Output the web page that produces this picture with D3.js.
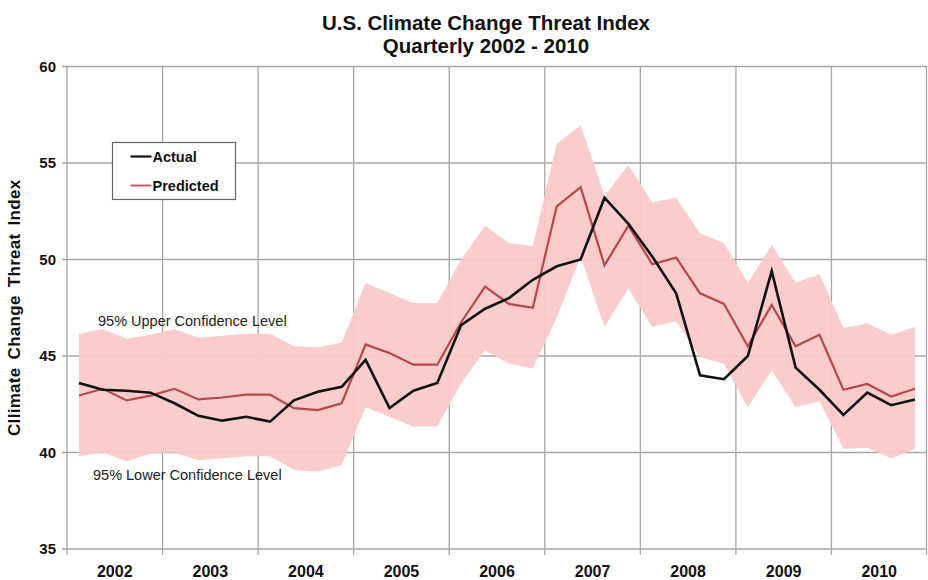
<!DOCTYPE html>
<html>
<head>
<meta charset="utf-8">
<script src="https://cdn.jsdelivr.net/npm/d3@7"></script>
<style>
  body { margin: 0; background: #fff; }
  text { font-family: Arial, "Liberation Sans", sans-serif; }
</style>
</head>
<body>
<div id="chart"></div>
<script>
// Years on the category axis
const years = ["2002", "2003", "2004", "2005", "2006", "2007", "2008", "2009", "2010"];
const yTicks = [35, 40, 45, 50, 55, 60];

// Quarterly values, 2002 Q1 .. 2010 Q4
const actual = [43.6, 43.25, 43.2, 43.1, 42.55, 41.9, 41.65, 41.85, 41.6, 42.7, 43.15, 43.4,
  44.8, 42.3, 43.2, 43.6, 46.6, 47.45, 48.0, 48.95, 49.65, 50.0, 53.2, 51.85,
  50.15, 48.25, 44.0, 43.8, 45.0, 49.4, 44.4, 43.25, 41.95, 43.1, 42.45, 42.75];
const predicted = [42.95, 43.3, 42.7, 42.95, 43.3, 42.75, 42.85, 43.0, 43.0, 42.3, 42.2, 42.55,
  45.6, 45.15, 44.55, 44.55, 46.75, 48.6, 47.7, 47.5, 52.75, 53.75, 49.7, 51.75,
  49.75, 50.1, 48.25, 47.7, 45.5, 47.65, 45.5, 46.1, 43.25, 43.55, 42.9, 43.3];
const upper = [46.15, 46.4, 45.9, 46.1, 46.4, 45.95, 46.05, 46.15, 46.15, 45.5, 45.45, 45.7,
  48.8, 48.25, 47.75, 47.75, 50.0, 51.75, 50.85, 50.7, 56.0, 56.95, 53.3, 54.9,
  52.95, 53.2, 51.35, 50.85, 48.8, 50.75, 48.8, 49.25, 46.45, 46.7, 46.1, 46.5];
const lower = [39.8, 40.0, 39.55, 39.95, 40.0, 39.6, 39.7, 39.8, 39.8, 39.1, 39.0, 39.35,
  42.35, 41.85, 41.35, 41.35, 43.6, 45.3, 44.6, 44.35, 47.0, 50.15, 46.5, 48.5,
  46.5, 46.8, 44.95, 44.6, 42.35, 44.25, 42.35, 42.65, 40.2, 40.25, 39.7, 40.2];

const quarters = [];
years.forEach((yr) => [1, 2, 3, 4].forEach((q) => quarters.push(yr + "Q" + q)));

const width = 928;
const height = 580;
const margin = { top: 66.5, right: 1, bottom: 31, left: 67 };

const svg = d3.select("#chart").append("svg")
  .attr("width", width)
  .attr("height", height);

svg.append("rect").attr("width", width).attr("height", height).attr("fill", "#fff");

const x = d3.scalePoint()
  .domain(quarters)
  .range([margin.left, width - margin.right])
  .padding(0.5);

const xYear = d3.scaleBand()
  .domain(years)
  .range([margin.left, width - margin.right]);

const y = d3.scaleLinear()
  .domain([35, 60])
  .range([height - margin.bottom, margin.top]);

const gridColor = "#a6a6a6";

// horizontal gridlines
svg.append("g")
  .selectAll("line")
  .data(yTicks)
  .join("line")
  .attr("x1", margin.left - 5)
  .attr("x2", width - margin.right)
  .attr("y1", (d) => y(d))
  .attr("y2", (d) => y(d))
  .attr("stroke", gridColor)
  .attr("stroke-width", 1.3);

// vertical gridlines at year boundaries
const boundaries = years.map((yr) => xYear(yr)).concat([xYear.range()[1] - 0.5]);
svg.append("g")
  .selectAll("line")
  .data(boundaries)
  .join("line")
  .attr("x1", (d) => d)
  .attr("x2", (d) => d)
  .attr("y1", margin.top)
  .attr("y2", height - margin.bottom + 6)
  .attr("stroke", gridColor)
  .attr("stroke-width", 1.3);

// confidence band
const area = d3.area()
  .x((d, i) => x(quarters[i]))
  .y0((d, i) => y(lower[i]))
  .y1((d) => y(d));

svg.append("path")
  .datum(upper)
  .attr("d", area)
  .attr("fill", "#fbc9c9")
  .attr("opacity", 0.95);

// lines
const line = d3.line()
  .x((d, i) => x(quarters[i]))
  .y((d) => y(d));

svg.append("path")
  .datum(predicted)
  .attr("d", line)
  .attr("fill", "none")
  .attr("stroke", "#b5494a")
  .attr("stroke-width", 2.2)
  .attr("stroke-linejoin", "miter");

svg.append("path")
  .datum(actual)
  .attr("d", line)
  .attr("fill", "none")
  .attr("stroke", "#111")
  .attr("stroke-width", 2.6)
  .attr("stroke-linejoin", "miter");

// y tick labels
svg.append("g")
  .selectAll("text")
  .data(yTicks)
  .join("text")
  .attr("x", margin.left - 11)
  .attr("y", (d) => y(d) + 5)
  .attr("text-anchor", "end")
  .attr("font-size", "15px")
  .attr("font-weight", "bold")
  .attr("fill", "#111")
  .text((d) => d);

// x year labels
svg.append("g")
  .selectAll("text")
  .data(years)
  .join("text")
  .attr("x", (d) => xYear(d) + xYear.bandwidth() / 2)
  .attr("y", height - 3)
  .attr("text-anchor", "middle")
  .attr("font-size", "16px")
  .attr("font-weight", "bold")
  .attr("fill", "#111")
  .text((d) => d);

// y axis title
svg.append("text")
  .attr("transform", `translate(20, ${(margin.top + height - margin.bottom) / 2}) rotate(-90)`)
  .attr("text-anchor", "middle")
  .attr("font-size", "17px")
  .attr("font-weight", "bold")
  .attr("word-spacing", "3px")
  .attr("letter-spacing", "0.3px")
  .attr("fill", "#111")
  .text("Cllimate Change Threat Index");

// chart title
const title = svg.append("text")
  .attr("text-anchor", "middle")
  .attr("font-size", "20.5px")
  .attr("font-weight", "bold")
  .attr("fill", "#111");
title.append("tspan").attr("x", 486).attr("y", 30).text("U.S. Climate Change Threat Index");
title.append("tspan").attr("x", 486).attr("y", 53).text("Quarterly 2002 - 2010");

// band annotations
svg.append("text")
  .attr("x", 98)
  .attr("y", 326)
  .attr("font-size", "14.5px")
  .attr("fill", "#222")
  .text("95% Upper Confidence Level");

svg.append("text")
  .attr("x", 93)
  .attr("y", 480)
  .attr("font-size", "14.5px")
  .attr("fill", "#222")
  .text("95% Lower Confidence Level");

// legend
const legend = svg.append("g").attr("transform", "translate(112.5,142.5)");
legend.append("rect")
  .attr("width", 123)
  .attr("height", 57)
  .attr("fill", "#fff")
  .attr("stroke", "#666")
  .attr("stroke-width", 1.2);

const legendItems = [
  { name: "Actual", color: "#111", width: 2.2 },
  { name: "Predicted", color: "#c0504d", width: 1.8 },
];
legendItems.forEach((item, i) => {
  const g = legend.append("g").attr("transform", `translate(0, ${14 + i * 29})`);
  g.append("line")
    .attr("x1", 18).attr("x2", 39)
    .attr("y1", 0).attr("y2", 0)
    .attr("stroke", item.color)
    .attr("stroke-width", item.width);
  g.append("text")
    .attr("x", 40)
    .attr("y", 5)
    .attr("font-size", "14.5px")
    .attr("font-weight", "bold")
    .attr("fill", "#111")
    .text(item.name);
});
</script>
</body>
</html>
